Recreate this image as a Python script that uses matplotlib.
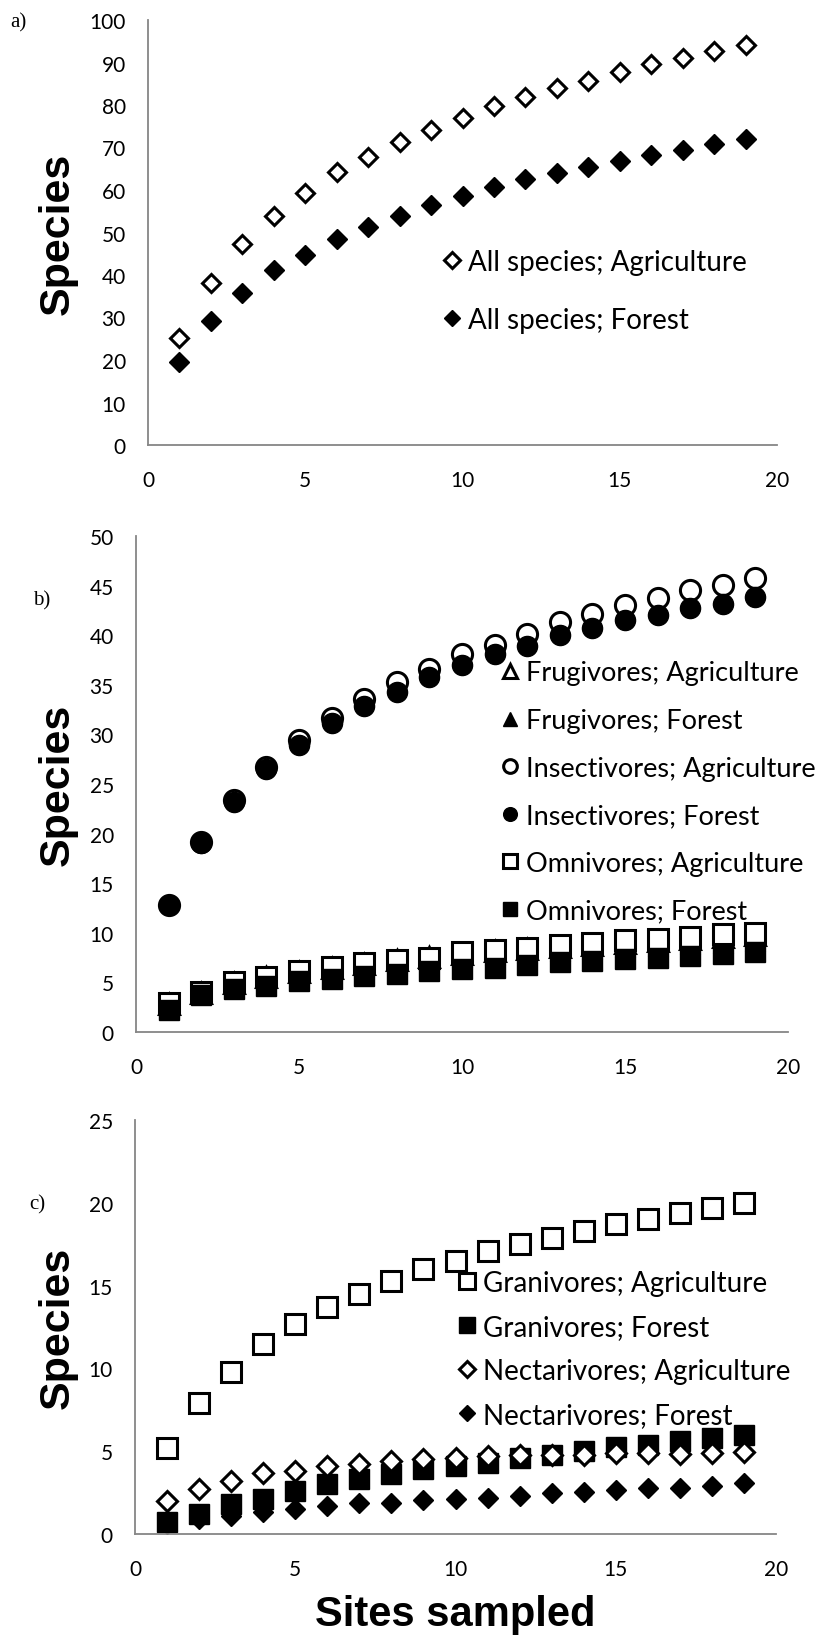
import matplotlib
matplotlib.use("Agg")
import matplotlib.pyplot as plt

sites = list(range(1, 20))

all_agri = [25.2, 38.2, 47.2, 54.0, 59.3, 64.2, 67.8, 71.2, 74.2, 77.0, 79.7, 81.9, 83.9, 85.7, 87.7, 89.7, 91.1, 92.6, 94.2]
all_forest = [19.5, 29.1, 35.8, 41.1, 44.8, 48.5, 51.2, 54.0, 56.4, 58.5, 60.7, 62.5, 64.0, 65.4, 66.8, 68.3, 69.5, 70.9, 72.0]

frug_agri = [2.8, 3.9, 4.9, 5.5, 6.0, 6.5, 6.9, 7.3, 7.6, 7.9, 8.2, 8.4, 8.6, 8.8, 9.0, 9.2, 9.4, 9.6, 9.8]
frug_forest = [2.6, 3.8, 4.7, 5.3, 5.8, 6.3, 6.7, 7.0, 7.3, 7.6, 7.8, 8.0, 8.2, 8.4, 8.6, 8.7, 8.9, 9.0, 9.2]
insect_agri = [12.8, 19.2, 23.4, 26.7, 29.4, 31.7, 33.6, 35.3, 36.6, 38.1, 39.0, 40.1, 41.3, 42.1, 43.0, 43.7, 44.6, 45.1, 45.8]
insect_forest = [12.8, 19.1, 23.2, 26.5, 28.9, 31.1, 32.9, 34.3, 35.8, 37.0, 38.1, 38.9, 40.0, 40.7, 41.5, 42.0, 42.7, 43.1, 43.9]
omni_agri = [2.9, 4.0, 5.0, 5.5, 6.1, 6.6, 7.0, 7.3, 7.5, 8.05, 8.3, 8.5, 8.8, 9.0, 9.3, 9.4, 9.6, 9.9, 10.0]
omni_forest = [2.2, 3.7, 4.3, 4.6, 5.1, 5.3, 5.6, 5.8, 6.1, 6.4, 6.5, 6.8, 7.05, 7.2, 7.4, 7.5, 7.7, 7.9, 8.05]

gran_agri = [5.2, 7.9, 9.8, 11.5, 12.7, 13.7, 14.5, 15.3, 16.0, 16.5, 17.1, 17.5, 17.9, 18.3, 18.7, 19.0, 19.4, 19.7, 20.0]
gran_forest = [0.7, 1.2, 1.8, 2.1, 2.6, 3.0, 3.3, 3.6, 3.9, 4.1, 4.3, 4.6, 4.75, 5.0, 5.25, 5.35, 5.6, 5.8, 6.0]
nect_agri = [2.0, 2.7, 3.2, 3.7, 3.8, 4.1, 4.2, 4.4, 4.5, 4.6, 4.7, 4.75, 4.8, 4.8, 4.9, 4.9, 4.85, 4.9, 4.95]
nect_forest = [0.6, 0.9, 1.1, 1.3, 1.5, 1.7, 1.9, 1.9, 2.05, 2.1, 2.2, 2.3, 2.5, 2.55, 2.65, 2.8, 2.8, 2.9, 3.05]

W, H = 826, 1640
fig = plt.figure(figsize=(W / 100, H / 100), dpi=100)

TICKFONT = "Lato"
LEGFONT = "Lato"


def make_axes(left, top, right, bottom):
    return fig.add_axes([left / W, 1 - bottom / H, (right - left) / W, (bottom - top) / H])


def style(ax, ymax, ystep):
    ax.set_xlim(0, 20)
    ax.set_ylim(0, ymax)
    ax.set_xticks(range(0, 21, 5))
    ax.set_yticks(range(0, ymax + 1, ystep))
    for s in ["top", "right"]:
        ax.spines[s].set_visible(False)
    for s in ["left", "bottom"]:
        ax.spines[s].set_color("#868686")
        ax.spines[s].set_linewidth(1.3)
    ax.tick_params(axis="y", length=0, labelsize=15, pad=16)
    ax.tick_params(axis="x", length=0, labelsize=15, pad=18)
    for lab in ax.get_xticklabels() + ax.get_yticklabels():
        lab.set_fontfamily(TICKFONT)


def open_kw(marker, ms):
    return dict(linestyle="none", marker=marker, markersize=ms, markerfacecolor="white",
                markeredgecolor="black", markeredgewidth=2.2)


def fill_kw(marker, ms):
    return dict(linestyle="none", marker=marker, markersize=ms, markerfacecolor="black",
                markeredgecolor="black", markeredgewidth=1.0)


def add_legend(ax, marker_x, row1_y, spacing, mscale, size):
    fs_px = size * 100 / 72
    hl = 0.6
    left = marker_x - hl * fs_px / 2
    top = row1_y - 0.43 * fs_px
    ls = (spacing - 0.9 * fs_px) / fs_px
    leg = ax.legend(loc="upper left", bbox_to_anchor=(left / W, 1 - top / H),
                    bbox_transform=fig.transFigure, frameon=False,
                    prop={"family": LEGFONT, "size": size}, handlelength=hl,
                    handletextpad=0.28, labelspacing=ls, markerscale=mscale,
                    borderpad=0, borderaxespad=0)
    leg.set_zorder(10)
    return leg


# Panel a
axa = make_axes(148, 21, 777, 446)
axa.plot(sites, all_agri, label="All species; Agriculture", **open_kw("D", 9.5))
axa.plot(sites, all_forest, label="All species; Forest", **fill_kw("D", 10))
style(axa, 100, 10)
add_legend(axa, 452, 262, 56.6, 0.85, 20)

# Panel b
axb = make_axes(136, 537, 788, 1033)
axb.plot(sites, frug_agri, label="Frugivores; Agriculture", **open_kw("^", 15))
axb.plot(sites, frug_forest, label="Frugivores; Forest", **fill_kw("^", 15))
axb.plot(sites, insect_agri, label="Insectivores; Agriculture", **open_kw("o", 14.5))
axb.plot(sites, insect_forest, label="Insectivores; Forest", **fill_kw("o", 14.5))
axb.plot(sites, omni_agri, label="Omnivores; Agriculture", **open_kw("s", 14.5))
axb.plot(sites, omni_forest, label="Omnivores; Forest", **fill_kw("s", 14.5))
style(axb, 50, 5)
add_legend(axb, 510, 673, 47, 0.68, 19.5)

# Panel c
axc = make_axes(135, 1121, 776, 1535)
axc.plot(sites, gran_agri, label="Granivores; Agriculture", **open_kw("s", 14))
axc.plot(sites, gran_forest, label="Granivores; Forest", **fill_kw("s", 14))
axc.plot(sites, nect_agri, label="Nectarivores; Agriculture", **open_kw("D", 10))
axc.plot(sites, nect_forest, label="Nectarivores; Forest", **fill_kw("D", 10.5))
style(axc, 25, 5)
add_legend(axc, 467, 1283, 43, 0.82, 20)

# axis titles
for yc in [(21 + 446) / 2, (537 + 1033) / 2, (1121 + 1535) / 2]:
    fig.text(58 / W, 1 - yc / H, "Species", rotation=90, ha="center", va="center",
             fontsize=31, fontweight="bold", family="Liberation Sans")
fig.text(455 / W, 1 - 1615 / H, "Sites sampled", ha="center", va="center",
         fontsize=30, fontweight="bold", family="Liberation Sans")

# panel letters
fig.text(10 / W, 1 - 23 / H, "a)", fontsize=15, family="Liberation Serif", va="center")
fig.text(33 / W, 1 - 601 / H, "b)", fontsize=15, family="Liberation Serif", va="center")
fig.text(29 / W, 1 - 1205 / H, "c)", fontsize=15, family="Liberation Serif", va="center")

fig.savefig("out.png", dpi=100)
